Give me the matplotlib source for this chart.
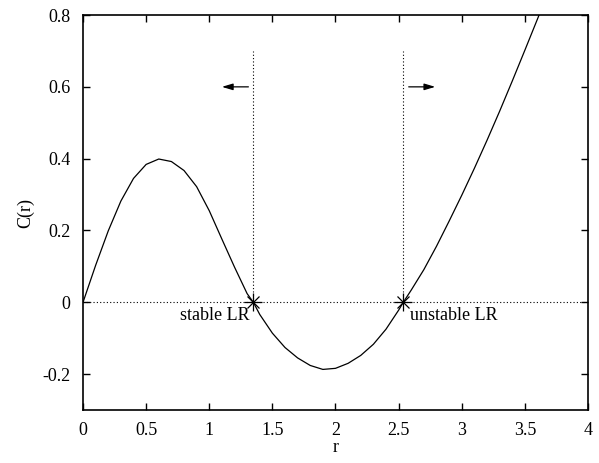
import numpy as np
import matplotlib
matplotlib.use("Agg")
import matplotlib.pyplot as plt

# curve C(r)
r_vals = [0.0, 0.1, 0.2, 0.3, 0.4, 0.5, 0.6, 0.7, 0.8, 0.9, 1.0, 1.1, 1.2, 1.3,
          1.349, 1.4, 1.5, 1.6, 1.7, 1.8, 1.9, 2.0, 2.1, 2.2, 2.3, 2.4, 2.5, 2.537,
          2.6, 2.7, 2.8, 2.9, 3.0, 3.1, 3.2, 3.3, 3.4, 3.5, 3.6, 3.7]
c_vals = [0.0, 0.103, 0.199, 0.282, 0.345, 0.384, 0.399, 0.392, 0.367, 0.322,
          0.255, 0.176, 0.098, 0.024, 0.0, -0.034, -0.086, -0.126, -0.155, -0.176,
          -0.187, -0.184, -0.170, -0.148, -0.117, -0.075, -0.022, 0.0,
          0.034, 0.091, 0.156, 0.226, 0.298, 0.373, 0.451, 0.532, 0.616, 0.702,
          0.789, 0.877]

# limit radii (fixed points) and their labels
lr_r = [1.349, 2.537]
lr_labels = ["stable LR", "unstable LR"]
marker_top = 0.7

# arrows showing flow direction: (start, end) at height 0.6
arrow_y = 0.6
arrows = [(1.31, 1.10), (2.58, 2.79)]

xticks = [0, 0.5, 1, 1.5, 2, 2.5, 3, 3.5, 4]
xticklabels = ["0", "0.5", "1", "1.5", "2", "2.5", "3", "3.5", "4"]
yticks = [-0.2, 0, 0.2, 0.4, 0.6, 0.8]
yticklabels = ["-0.2", "0", "0.2", "0.4", "0.6", "0.8"]

plt.rcParams["font.family"] = ["Liberation Serif", "DejaVu Serif"]
plt.rcParams["font.size"] = 13

fig = plt.figure(figsize=(5.99, 4.63), dpi=100)
ax = fig.add_axes([0.1386, 0.1145, 0.843, 0.853])

dotted = (0, (1, 2))
ax.plot([0, 4], [0, 0], color="k", lw=0.8, ls=dotted)
for xr in lr_r:
    ax.plot([xr, xr], [0, marker_top], color="k", lw=0.8, ls=dotted)

ax.plot(r_vals, c_vals, color="k", lw=0.9, clip_on=True)

ax.plot(lr_r, [0, 0], ls="none", marker="+", ms=13, mew=0.9, color="k")
ax.plot(lr_r, [0, 0], ls="none", marker="x", ms=9, mew=0.9, color="k")

ax.text(1.317, -0.036, lr_labels[0], ha="right", va="center")
ax.text(2.59, -0.036, lr_labels[1], ha="left", va="center")

for x0, x1 in arrows:
    ax.annotate("", xy=(x1, arrow_y), xytext=(x0, arrow_y),
                arrowprops=dict(arrowstyle="-|>,head_length=0.5,head_width=0.15",
                                color="k", lw=0.9, shrinkA=0, shrinkB=0))

ax.set_xlim(0, 4)
ax.set_ylim(-0.3, 0.8)
ax.set_xticks(xticks)
ax.set_xticklabels(xticklabels)
ax.set_yticks(yticks)
ax.set_yticklabels(yticklabels)
ax.tick_params(direction="in", length=5, width=1, top=True, right=True,
               labelsize=13, pad=9)
for s in ax.spines.values():
    s.set_linewidth(1.2)

ax.set_xlabel("r", labelpad=0)
ax.set_ylabel("C(r)", labelpad=6)

fig.savefig("out.png", dpi=100)
